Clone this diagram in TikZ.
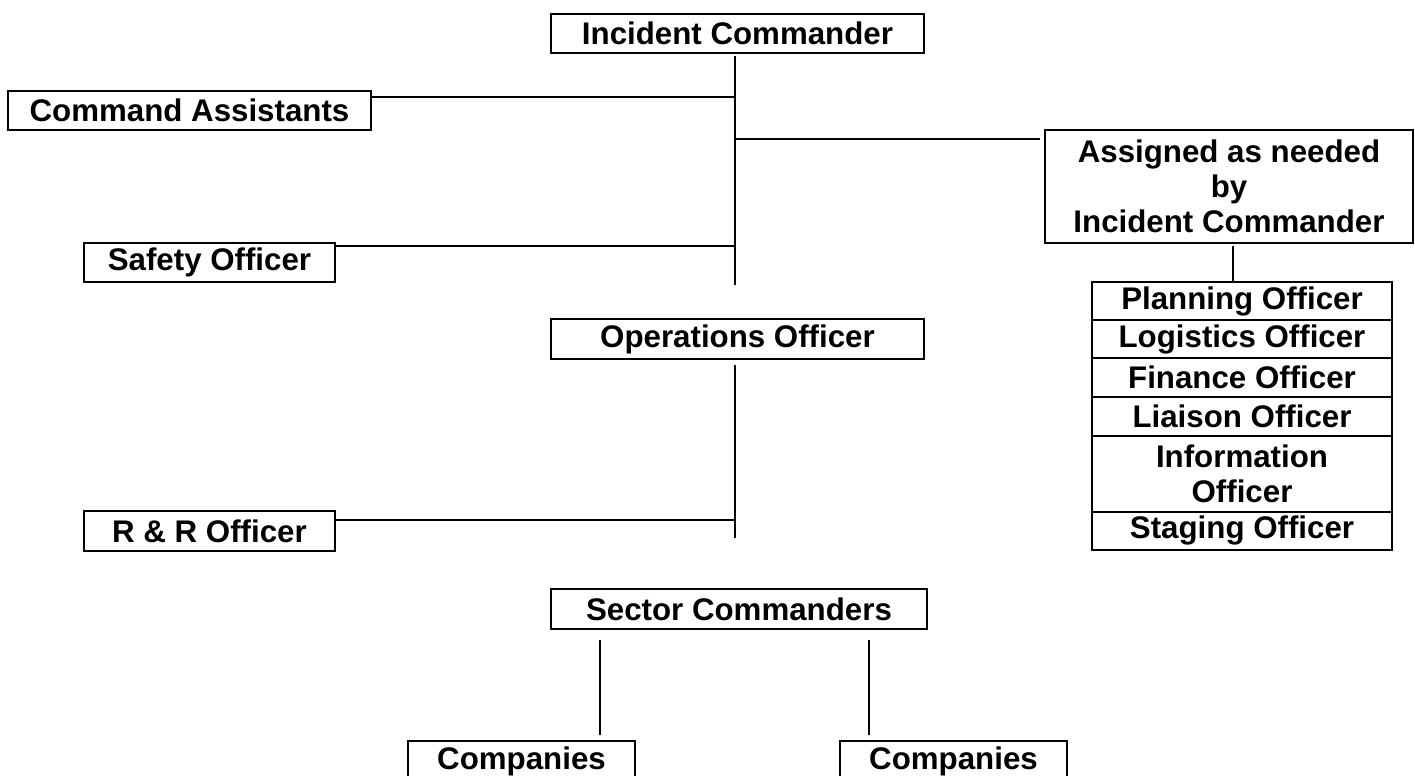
\documentclass[tikz,border=0pt]{standalone}
\usepackage{fontspec}
\setmainfont{Liberation Sans}
\usetikzlibrary{positioning}

\tikzset{
  box/.style={draw, line width=1.2pt, inner sep=0pt, outer sep=0pt, align=center,
    font=\fontsize{17.8}{20}\selectfont\bfseries},
  link/.style={line width=1.2pt}
}

\begin{document}
\begin{tikzpicture}[x=0.02cm,y=-0.02cm]
  \useasboundingbox (0,0) rectangle (1415,776);
  \clip (0,0) rectangle (1415,776);

  \node[box, minimum width=7.46cm, minimum height=0.78cm] (ic) at (737.5,33.5) {Incident Commander};
  \node[box, minimum width=7.26cm, minimum height=0.78cm] (ca) at (189.5,110.5) {Command Assistants};
  \node[box, minimum width=5.02cm, minimum height=0.78cm] (so) at (209.5,262.5) {Safety Officer};
  \node[box, minimum width=7.36cm, minimum height=2.26cm] (as) at (1229,186.5) {Assigned as needed\\by\\Incident Commander};

  \node[box, minimum width=7.46cm, minimum height=0.80cm] (ops) at (737.5,339) {Operations Officer};
  \node[box, minimum width=5.02cm, minimum height=0.80cm] (rr) at (209.5,531) {R \& R Officer};
  \node[box, minimum width=7.52cm, minimum height=0.80cm] (sc) at (739,609) {Sector Commanders};
  \node[box, minimum width=4.54cm, minimum height=0.80cm] (co1) at (521.5,761) {Companies};
  \node[box, minimum width=4.54cm, minimum height=0.80cm] (co2) at (953.5,761) {Companies};

  % officers assigned by the commander
  \node[box, minimum width=6cm, minimum height=0.76cm] (plan) at (1242,301) {Planning Officer};
  \node[box, minimum width=6cm, minimum height=0.76cm, below=0pt of plan] (log) {Logistics Officer};
  \node[box, minimum width=6cm, minimum height=0.78cm, below=0pt of log] (fin) {Finance Officer};
  \node[box, minimum width=6cm, minimum height=0.78cm, below=0pt of fin] (lia) {Liaison Officer};
  \node[box, minimum width=6cm, minimum height=1.52cm, below=0pt of lia] (info) {Information\\Officer};
  \node[box, minimum width=6cm, minimum height=0.76cm, below=0pt of info] (stg) {Staging Officer};

  \coordinate (t1a) at (735,56);
  \coordinate (t1b) at (735,285);
  \coordinate (j1) at (735,97);
  \coordinate (j2) at (735,139);
  \coordinate (j3) at (735,246);
  \coordinate (t2a) at (735,365);
  \coordinate (t2b) at (735,538);
  \coordinate (j4) at (735,520);
  \coordinate (a1) at (1233,246);
  \coordinate (s1) at (600,640);
  \coordinate (s2) at (869,640);

  \draw[link] (t1a) -- (t1b);
  \draw[link] (j1) -- (j1 -| ca.east);
  \draw[link] (j2) -- ([xshift=-3pt]j2 -| as.west);
  \draw[link] (j3) -- (j3 -| so.east);
  \draw[link] (a1) -- (a1 |- plan.north);

  \draw[link] (t2a) -- (t2b);
  \draw[link] (j4) -- (j4 -| rr.east);

  \draw[link] (s1) -- ([yshift=3.5pt]s1 |- co1.north);
  \draw[link] (s2) -- ([yshift=3.5pt]s2 |- co2.north);
\end{tikzpicture}
\end{document}
